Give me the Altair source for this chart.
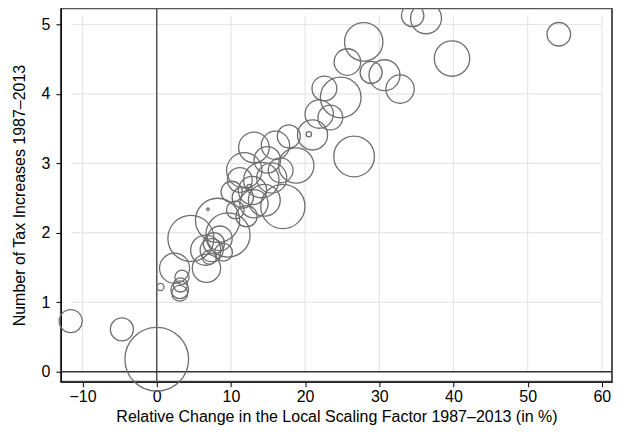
import altair as alt
import pandas as pd
import math

# Data
change = [-11.6, -4.7, 0.0, 0.5, 2.4, 3.4, 3.2, 3.1, 3.1, 4.6, 6.7, 6.6, 7.4, 7.7, 8.5, 9.0,
          7.1, 9.6, 8.2, 6.9, 10.6, 12.1, 10.1, 11.6, 11.2, 11.8, 12.9, 14.5, 13.1, 14.1,
          15.5, 14.9, 17.0, 18.8, 16.7, 13.1, 16.0, 17.8, 21.0, 20.5, 21.9, 23.4, 22.6,
          24.8, 26.6, 25.7, 27.9, 28.9, 30.7, 32.8, 34.5, 36.3, 39.8, 54.2, 12.5]
increases = [0.73, 0.61, 0.18, 1.22, 1.49, 1.36, 1.25, 1.18, 1.13, 1.92, 1.49, 1.75, 1.75, 1.85,
             1.92, 1.72, 1.65, 1.97, 2.18, 2.34, 2.33, 2.24, 2.59, 2.51, 2.76, 2.90, 2.61,
             2.47, 2.42, 2.76, 2.79, 3.05, 2.38, 2.97, 2.90, 3.23, 3.26, 3.39, 3.41, 3.42,
             3.71, 3.66, 4.08, 3.95, 3.10, 4.46, 4.75, 4.31, 4.27, 4.07, 5.13, 5.09, 4.51,
             4.86, 2.66]
weight = [169, 169, 1296, 16, 289, 64, 64, 100, 81, 676, 256, 289, 169, 144, 196, 100,
          64, 625, 625, 2, 100, 144, 144, 144, 196, 400, 256, 324, 256, 400,
          289, 225, 625, 400, 196, 300, 256, 169, 289, 9, 256, 196, 196,
          529, 529, 225, 470, 156, 306, 256, 161, 306, 400, 177, 9]

x_ticks = [-10, 0, 10, 20, 30, 40, 50, 60]
y_ticks = [0, 1, 2, 3, 4, 5]

df = pd.DataFrame({"change": change, "increases": increases, "weight": weight})

W, H = 552, 374
XDOM = [-12.92, 61.37]
YDOM = [-0.144, 5.233]
FONT = "Liberation Sans"

xs = alt.Scale(domain=XDOM, nice=False, zero=False)
ys = alt.Scale(domain=YDOM, nice=False, zero=False)

grid_col = "#e6e6e6"

hgrid = alt.Chart(pd.DataFrame({"t": [t for t in y_ticks if t != 0]})).mark_rule(
    color=grid_col, strokeWidth=1.2).encode(
    y=alt.Y("t:Q", scale=ys),
    x=alt.datum(-11.5, scale=xs), x2=alt.datum(60))

vgrid = alt.Chart(pd.DataFrame({"t": [t for t in x_ticks if t != 0]})).mark_rule(
    color=grid_col, strokeWidth=1.2).encode(
    x=alt.X("t:Q", scale=xs),
    y=alt.datum(0, scale=ys), y2=alt.datum(5.13))

zero_v = alt.Chart(pd.DataFrame({"t": [0]})).mark_rule(color="#555555", strokeWidth=1.5).encode(
    x=alt.X("t:Q", scale=xs), y=alt.value(0), y2=alt.value(H))
zero_h = alt.Chart(pd.DataFrame({"t": [0]})).mark_rule(color="#333333", strokeWidth=1.3).encode(
    y=alt.Y("t:Q", scale=ys), x=alt.value(0), x2=alt.value(W))

maxw = max(weight)
circles = alt.Chart(df).mark_point(
    shape="circle", filled=False, color="#6e6e6e", strokeWidth=1.3, opacity=1, clip=False
).encode(
    x=alt.X("change:Q", scale=xs,
            axis=alt.Axis(values=x_ticks, grid=False, format="d",
                          title="Relative Change in the Local Scaling Factor 1987\u20132013 (in %)",
                          domainColor="black", tickColor="black", tickSize=5, labelPadding=2,
                          titlePadding=4, labelFontSize=16, titleFontSize=16, labelFont=FONT,
                          titleFont=FONT, titleFontWeight="normal", labelColor="black",
                          titleColor="black", labelFlush=False, labelOverlap=False)),
    y=alt.Y("increases:Q", scale=ys,
            axis=alt.Axis(values=y_ticks, grid=False, format="d",
                          title="Number of Tax Increases 1987\u20132013",
                          domainColor="black", tickColor="black", tickSize=5, labelPadding=6,
                          titlePadding=14, labelFontSize=16, titleFontSize=16, labelFont=FONT,
                          titleFont=FONT, titleFontWeight="normal", labelColor="black",
                          titleColor="black", labelFlush=False, labelOverlap=False)),
    size=alt.Size("weight:Q", scale=alt.Scale(type="linear", domain=[0, maxw],
                                              range=[0, math.pi * maxw], zero=True), legend=None),
)

chart = alt.layer(hgrid, vgrid, zero_v, zero_h, circles).properties(
    width=W, height=H,
    autosize=alt.AutoSizeParams(type="none"),
    padding={"left": 53, "top": 0, "right": 2, "bottom": 46},
    background="white",
).configure_view(stroke="#555555", strokeWidth=2)

chart.save("out.html", embed_options={"renderer": "svg", "actions": False})
